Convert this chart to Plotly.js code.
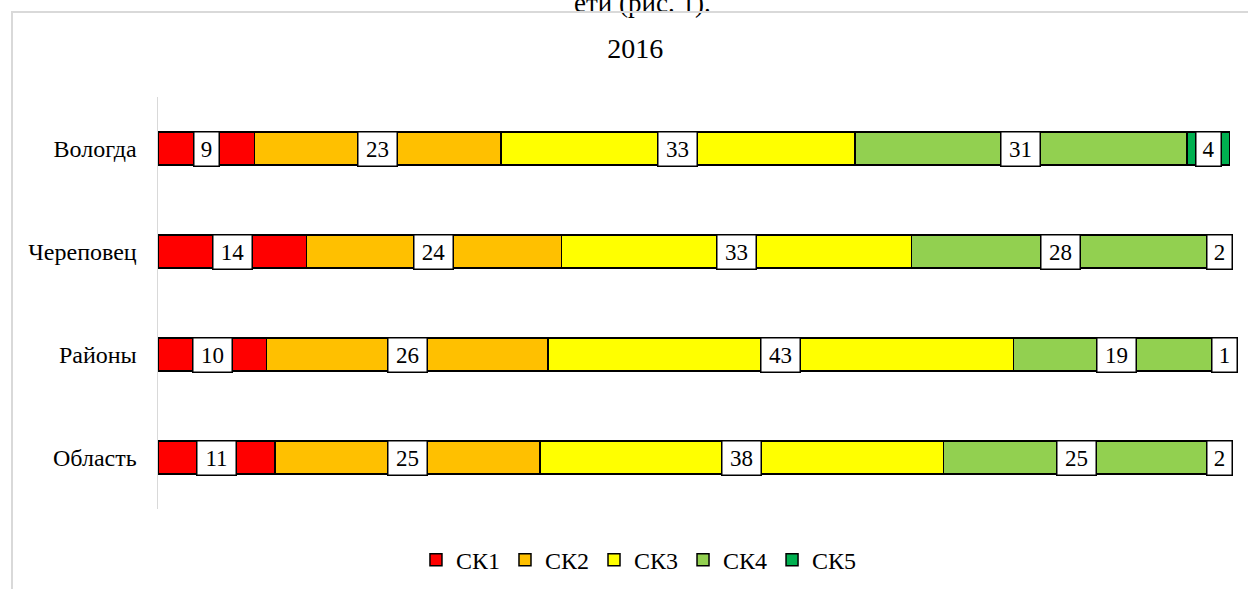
<!DOCTYPE html>
<html>
<head>
<meta charset="utf-8">
<script src="https://cdn.plot.ly/plotly-3.0.1.min.js"></script>
<style>
  body { margin: 0; background: #fff; }
  #chart { width: 1248px; height: 589px; }
  #frame {
    position: absolute; left: 11px; top: 11px; width: 1400px; height: 800px;
    border-left: 2px solid #d9d9d9; border-top: 2px solid #d9d9d9;
    pointer-events: none;
  }
</style>
</head>
<body>
<div id="chart"></div>
<div id="frame"></div>
<script>
// Regions (top to bottom) and the share of each class
const regions = ['Вологда', 'Череповец', 'Районы', 'Область'];
const seriesNames = ['СК1', 'СК2', 'СК3', 'СК4', 'СК5'];
const sk1 = [9, 14, 10, 11];
const sk2 = [23, 24, 26, 25];
const sk3 = [33, 33, 43, 38];
const sk4 = [31, 28, 19, 25];
const sk5 = [4, 2, 1, 2];
const colors = ['#ff0000', '#ffc000', '#ffff00', '#92d050', '#00b050'];

const FONT = '"Liberation Serif", "Times New Roman", serif';
const series = [sk1, sk2, sk3, sk4, sk5];

// one trace per class, normalised to 100%
const traces = series.map((vals, i) => ({
    type: 'bar',
    orientation: 'h',
    name: seriesNames[i],
    y: regions,
    x: vals,
    marker: { color: colors[i], line: { color: '#000', width: 1.5 } },
    hoverinfo: 'x+name'
}));

// white boxed value labels in the middle of each segment
function buildLabels() {
    const notes = [];
    regions.forEach((region, r) => {
        const total = series.reduce((s, v) => s + v[r], 0);
        let cum = 0;
        series.forEach(vals => {
            const v = vals[r];
            const mid = (cum + v / 2) / total * 100;
            cum += v;
            notes.push({
                x: mid, y: region, xref: 'x', yref: 'y',
                text: String(v), showarrow: false,
                font: { family: FONT, size: 23, color: '#000' },
                bgcolor: '#fff', bordercolor: '#000', borderwidth: 1.5, borderpad: 1,
                width: String(v).length * 14 + 8, height: 31
            });
        });
    });
    return notes;
}

const annotations = buildLabels();
annotations.push({
    xref: 'paper', yref: 'paper', x: 0.452, y: 1.235, yanchor: 'middle', yshift: -3,
    text: 'ети (рис. 1).', showarrow: false,
    font: { family: FONT, size: 27, color: '#000' }
});

const layout = {
    width: 1248, height: 589,
    margin: { l: 158, r: 18, t: 97, b: 80 },
    paper_bgcolor: '#fff', plot_bgcolor: '#fff',
    font: { family: FONT, size: 24, color: '#000' },
    title: {
        text: '2016', x: 0.509, xanchor: 'center', y: 0.918, yanchor: 'middle',
        font: { family: FONT, size: 28, color: '#000' }
    },
    barmode: 'stack',
    barnorm: 'percent',
    bargap: 0.68,
    xaxis: {
        range: [0, 100], showgrid: false, zeroline: false,
        showticklabels: false, ticks: '', showline: false, fixedrange: true
    },
    yaxis: {
        type: 'category', autorange: 'reversed',
        showline: true, linecolor: '#d9d9d9', linewidth: 1.5,
        ticks: '', ticklabelstandoff: 15, showgrid: false,
        tickfont: { family: FONT, size: 24, color: '#000' }
    },
    showlegend: true,
    legend: {
        orientation: 'h', xref: 'container', yref: 'container',
        x: 0.512, xanchor: 'center', y: 0.049, yanchor: 'middle',
        font: { family: FONT, size: 24, color: '#000' },
        itemwidth: 30, traceorder: 'normal'
    },
    annotations: annotations
};

Plotly.newPlot('chart', traces, layout, { displayModeBar: false, staticPlot: true });
</script>
</body>
</html>
